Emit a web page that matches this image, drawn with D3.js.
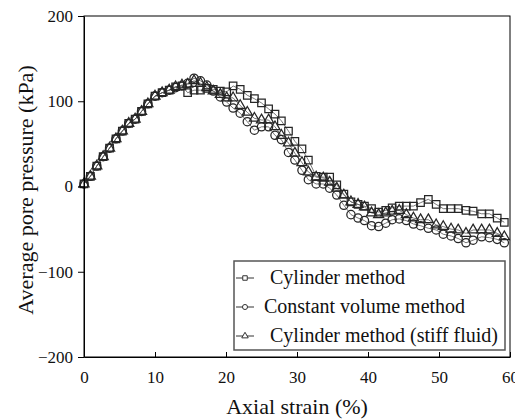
<!DOCTYPE html>
<html>
<head>
<meta charset="utf-8">
<script src="https://cdn.jsdelivr.net/npm/d3@7/dist/d3.min.js"></script>
<style>
  html, body { margin: 0; padding: 0; background: #fff; }
  svg { display: block; }
</style>
</head>
<body>
<svg id="chart" width="515" height="419" font-family="Liberation Serif"></svg>
<script>
// ---- data ----
const strain = [0, 0.9, 1.8, 2.7, 3.6, 4.5, 5.4, 6.3, 7.2, 8.1, 9.0, 10.0, 11.0, 12.0, 12.9, 13.8, 14.6, 15.5, 16.4, 17.3,
  18.2, 19.2, 20.1, 21.0, 22.0, 23.0, 24.0, 25.0, 26.0, 26.9, 27.8, 28.8, 29.7, 30.7, 31.6, 32.7, 33.7, 34.6, 35.6, 36.6,
  37.6, 38.6, 39.5, 40.5, 41.5, 42.5, 43.4, 44.4, 45.4, 46.4, 47.4, 48.5, 49.6, 50.6, 51.7, 52.7, 53.8, 54.8, 56.0, 57.1,
  58.2, 59.2];
const cylinder = [3, 12, 24, 35, 45, 56, 65, 74, 79, 88, 97, 106, 110, 113, 117, 118, 110, 113, 113, 115,
  114, 112, 111, 118, 114, 107, 103, 98, 91, 85, 77, 65, 53, 44, 31, 12, 11, 11, 2, -9,
  -18, -21, -23, -26, -30, -28, -25, -23, -23, -23, -19, -15, -21, -26, -26, -26, -28, -29, -32, -32,
  -37, -42];
const constantVolume = [3, 12, 24, 35, 45, 56, 65, 74, 79, 88, 97, 106, 110, 113, 116, 118, 121, 127, 124, 119,
  112, 105, 99, 92, 86, 76, 66, 70, 70, 60, 55, 40, 31, 19, 8, 3, 3, -2, -10, -22,
  -33, -37, -40, -46, -47, -43, -39, -38, -40, -44, -46, -49, -51, -56, -58, -61, -66, -63, -59, -60,
  -62, -66];
const stiffFluid = [3, 12, 24, 35, 45, 56, 65, 74, 79, 88, 97, 106, 110, 113, 117, 119, 120, 124, 121, 116,
  112, 108, 104, 104, 95, 87, 80, 78, 78, 70, 60, 51, 39, 28, 17, 11, 10, 5, -2, -10,
  -18, -21, -24, -31, -33, -31, -29, -28, -33, -37, -39, -39, -45, -47, -50, -51, -55, -51, -51, -51,
  -55, -59];
const seriesNames = ["Cylinder method", "Constant volume method", "Cylinder method (stiff fluid)"];
const xTicks = [0, 10, 20, 30, 40, 50, 60];
const yTicks = [-200, -100, 0, 100, 200];

// ---- layout ----
const W = 515, H = 419;
const margin = { left: 84, right: 5, top: 16, bottom: 62 };
const pw = W - margin.left - margin.right;
const ph = H - margin.top - margin.bottom;
const FONT = "Liberation Serif";
const TXT = "#111";

const svg = d3.select("#chart");
const g = svg.append("g").attr("transform", `translate(${margin.left},${margin.top})`);

const x = d3.scaleLinear().domain([0, 60]).range([0, pw]);
const y = d3.scaleLinear().domain([-200, 200]).range([ph, 0]);

const stroke = "#262626";

const series = [
  { name: seriesNames[0], values: cylinder, symbol: d3.symbolSquare, size: 56, lsize: 20 },
  { name: seriesNames[1], values: constantVolume, symbol: d3.symbolCircle, size: 54, lsize: 20 },
  { name: seriesNames[2], values: stiffFluid, symbol: d3.symbolTriangle, size: 44, lsize: 18 }
];

const line = d3.line().x((d, i) => x(strain[i])).y(d => y(d));

series.forEach(s => {
  g.append("path").datum(s.values)
    .attr("d", line)
    .attr("fill", "none")
    .attr("stroke", "#555")
    .attr("stroke-width", 0.8);
});

series.forEach(s => {
  const sym = d3.symbol().type(s.symbol).size(s.size);
  g.append("g").selectAll("path").data(s.values).join("path")
    .attr("d", sym)
    .attr("transform", (d, i) => `translate(${x(strain[i])},${y(d)})`)
    .attr("fill", "none")
    .attr("stroke", stroke)
    .attr("stroke-width", 1.25);
});

// frame
g.append("rect").attr("x", 0).attr("y", 0).attr("width", pw).attr("height", ph)
  .attr("fill", "none").attr("stroke", "#000").attr("stroke-width", 1);

// axes
const xAxis = d3.axisBottom(x).tickValues(xTicks).tickSizeInner(-5).tickSizeOuter(0).tickPadding(14);
const yAxis = d3.axisLeft(y).tickValues(yTicks).tickSizeInner(6).tickSizeOuter(0).tickPadding(5);

const gx = g.append("g").attr("transform", `translate(0,${ph})`).call(xAxis);
const gy = g.append("g").call(yAxis);
[gx, gy].forEach(a => {
  a.attr("font-family", FONT).attr("font-size", 17);
  a.selectAll("text").attr("fill", TXT);
  a.selectAll("line").attr("stroke", "#000");
  a.select(".domain").attr("stroke", "#000");
});

// axis titles
svg.append("text")
  .attr("x", 297)
  .attr("y", 414)
  .attr("text-anchor", "middle")
  .attr("font-family", FONT)
  .attr("font-size", 22)
  .attr("fill", TXT)
  .text("Axial strain (%)");

svg.append("text")
  .attr("transform", `translate(33,190) rotate(-90)`)
  .attr("text-anchor", "middle")
  .attr("font-family", FONT)
  .attr("font-size", 22)
  .attr("fill", TXT)
  .text("Average pore pressure (kPa)");

// legend
const lg = svg.append("g");
lg.append("rect").attr("x", 234).attr("y", 261).attr("width", 271).attr("height", 89)
  .attr("fill", "#fff").attr("stroke", "#555").attr("stroke-width", 1.5);
const rowsY = [278, 307, 336];
const textX = [270, 264, 270];
series.forEach((s, i) => {
  const ry = rowsY[i];
  lg.append("line").attr("x1", 236).attr("x2", 254).attr("y1", ry).attr("y2", ry)
    .attr("stroke", "#333").attr("stroke-width", 1);
  lg.append("path")
    .attr("d", d3.symbol().type(s.symbol).size(s.lsize))
    .attr("transform", `translate(245,${ry})`)
    .attr("fill", "#fff").attr("stroke", "#333").attr("stroke-width", 1);
  lg.append("text")
    .attr("x", textX[i]).attr("y", ry + 6)
    .attr("font-family", FONT)
    .attr("font-size", 20)
    .attr("fill", TXT)
    .text(s.name);
});
</script>
</body>
</html>
